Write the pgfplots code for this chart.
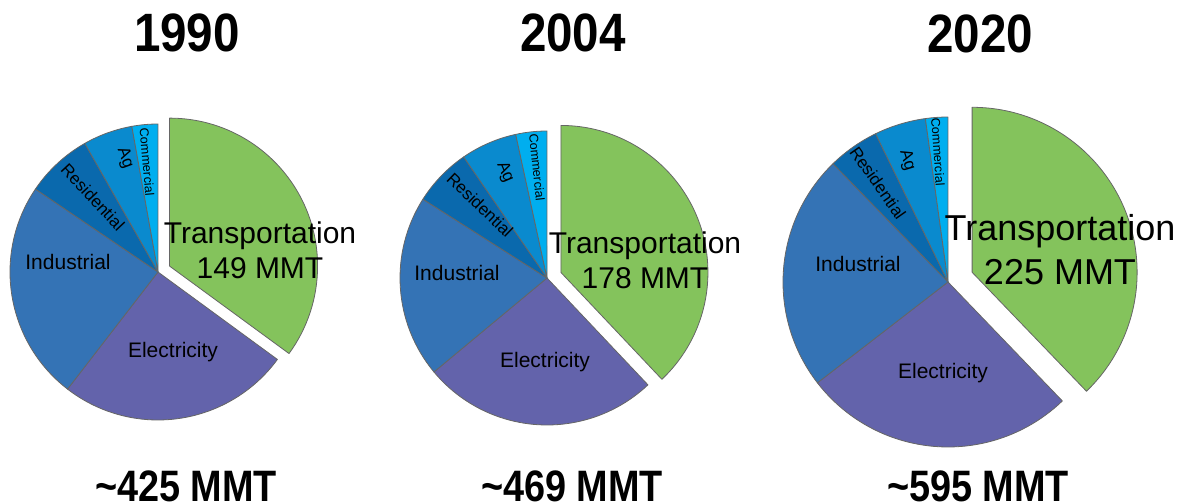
\documentclass[border=0pt]{standalone}
\usepackage{pgfplots}
\pgfplotsset{compat=1.18}
\usepackage{pgfplotstable}
\usepackage{graphicx}
\usepackage{fontspec}
\setmainfont{Liberation Sans}

% sector colours, in table order
\definecolor{pie0}{HTML}{84C35C}% Transportation
\definecolor{pie1}{HTML}{6363AB}% Electricity
\definecolor{pie2}{HTML}{3473B5}% Industrial
\definecolor{pie3}{HTML}{0A69AD}% Residential
\definecolor{pie4}{HTML}{0A8ACE}% Ag
\definecolor{pie5}{HTML}{00AEEF}% Commercial

% emissions by sector, MMT
\pgfplotstableread{
sector value
Transportation 149
Electricity 108
Industrial 102
Residential 31
Ag 23
Commercial 12
}\emissionsA
\pgfplotstableread{
sector value
Transportation 178
Electricity 122
Industrial 94
Residential 30
Ag 29
Commercial 16
}\emissionsB
\pgfplotstableread{
sector value
Transportation 225
Electricity 159
Industrial 138
Residential 30
Ag 30
Commercial 13
}\emissionsC

% #1 table, #2/#3 centre (axis units), #4 radius, #5 pull-out of the first sector
\newcommand\drawpie[5]{%
  \pgfplotstablegetrowsof{#1}%
  \pgfmathtruncatemacro\lastrow{\pgfplotsretval-1}%
  \gdef\pietotal{0}%
  \foreach \i in {0,...,\lastrow}{%
    \pgfplotstablegetelem{\i}{value}\of{#1}%
    \pgfmathparse{\pietotal+\pgfplotsretval}%
    \xdef\pietotal{\pgfmathresult}%
  }%
  \gdef\pieangle{90}%
  \foreach \i in {0,...,\lastrow}{%
    \pgfplotstablegetelem{\i}{value}\of{#1}%
    \pgfmathsetmacro\angB{\pieangle-360*(\pgfplotsretval/\pietotal)}%
    \pgfmathsetmacro\angM{(\pieangle+\angB)/2}%
    \ifnum\i=0 \def\ex{#5}\else\def\ex{0pt}\fi
    \filldraw[fill=pie\i, draw=black!60, line width=0.4pt, line join=round,
      shift={(\angM:\ex)}]
      (axis cs:#2,#3) -- ++(\pieangle:#4)
      arc[start angle=\pieangle, end angle=\angB, radius=#4] -- cycle;
    \xdef\pieangle{\angB}%
  }%
}

\newcommand\bigfont{\fontsize{15}{17.5}\selectfont}
\newcommand\midfont{\fontsize{10.5}{12}\selectfont}
\newcommand\smallfont{\fontsize{8.5}{10}\selectfont}
\newcommand\tinyfont{\fontsize{6.3}{7}\selectfont}
\newcommand\titlefont{\bfseries\fontsize{27}{30}\selectfont}
\newcommand\totalfont{\bfseries\fontsize{22}{26}\selectfont}

\begin{document}
\begin{tikzpicture}[slice/.style={inner sep=0pt}]
\useasboundingbox (0,0) rectangle (591pt,251pt);
\begin{axis}[
  x=0.5pt, y=0.5pt,
  xmin=0, xmax=1182, ymin=0, ymax=502,
  y dir=reverse,
  hide axis, clip=false,
  at={(0,0)}, anchor=south west,
]
\pgfplotsextra{%
  \drawpie{\emissionsA}{158}{272}{74pt}{6.5pt}%
  \drawpie{\emissionsB}{547}{278}{73.5pt}{7.5pt}%
  \drawpie{\emissionsC}{948}{282}{82.5pt}{13pt}%
}

% 1990
\node[font=\titlefont] at (axis cs:187,33) {\scalebox{0.88}[1]{1990}};
\node[font=\bigfont, align=center, slice] at (axis cs:260,250) {Transportation\\149 MMT};
\node[font=\midfont, slice] at (axis cs:173,352) {Electricity};
\node[font=\midfont, slice] at (axis cs:68,262) {Industrial};
\node[font=\smallfont, slice, rotate=-47] at (axis cs:93,197) {Residential};
\node[font=\smallfont, slice, rotate=-70] at (axis cs:125,158) {Ag};
\node[font=\tinyfont, slice, rotate=-85] at (axis cs:147,162) {Commercial};
\node[font=\totalfont, anchor=base, inner sep=0pt] at (axis cs:186,501) {\scalebox{0.86}[1]{\textasciitilde425 MMT}};

% 2004
\node[font=\titlefont] at (axis cs:573,33) {\scalebox{0.88}[1]{2004}};
\node[font=\bigfont, align=center, slice] at (axis cs:645,260) {Transportation\\178 MMT};
\node[font=\midfont, slice] at (axis cs:545,362) {Electricity};
\node[font=\midfont, slice] at (axis cs:457,273) {Industrial};
\node[font=\smallfont, slice, rotate=-44] at (axis cs:480,205) {Residential};
\node[font=\smallfont, slice, rotate=-67] at (axis cs:505,172) {Ag};
\node[font=\tinyfont, slice, rotate=-84] at (axis cs:537,167) {Commercial};
\node[font=\totalfont, anchor=base, inner sep=0pt] at (axis cs:572,501) {\scalebox{0.86}[1]{\textasciitilde469 MMT}};

% 2020
\node[font=\titlefont] at (axis cs:980,34) {\scalebox{0.88}[1]{2020}};
\node[font=\fontsize{18}{22}\selectfont, align=center, slice] at (axis cs:1060,250) {Transportation\\225 MMT};
\node[font=\midfont, slice] at (axis cs:943,373) {Electricity};
\node[font=\midfont, slice] at (axis cs:858,264) {Industrial};
\node[font=\smallfont, slice, rotate=-55] at (axis cs:878,183) {Residential};
\node[font=\smallfont, slice, rotate=-73] at (axis cs:907,160) {Ag};
\node[font=\tinyfont, slice, rotate=-86] at (axis cs:938,152) {Commercial};
\node[font=\totalfont, anchor=base, inner sep=0pt] at (axis cs:978,501) {\scalebox{0.86}[1]{\textasciitilde595 MMT}};
\end{axis}
\end{tikzpicture}
\end{document}
